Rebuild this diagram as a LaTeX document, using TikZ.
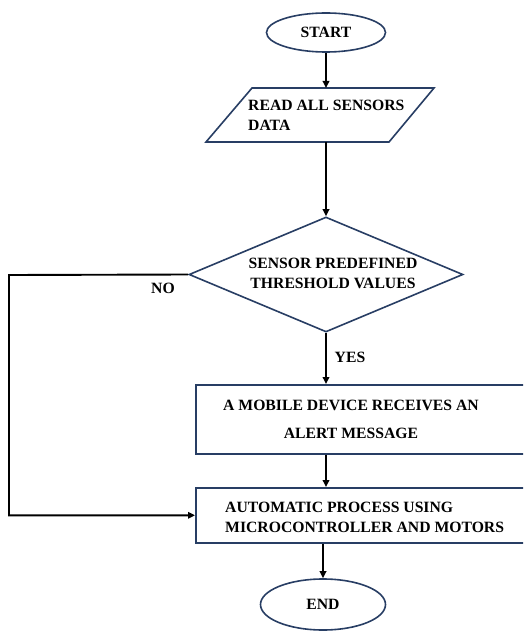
\documentclass[tikz,border=0pt]{standalone}
\usepackage{fontspec}
\setmainfont{Liberation Serif}
\usetikzlibrary{shapes.geometric,arrows.meta}
\definecolor{outline}{RGB}{40,62,100}
\begin{document}
\begin{tikzpicture}[x=1pt,y=-1pt,
  every node/.style={font=\fontsize{15.7}{20}\selectfont\bfseries},
  shapeline/.style={draw=outline,line width=1.6pt,fill=white},
  flow/.style={draw=black,line width=1.9pt,-{Triangle[length=7pt,width=6.5pt]}},
  txt/.style={inner sep=0pt}]
\useasboundingbox (0,0) rectangle (523,631);
\clip (0,0) rectangle (523,631);

% terminals and process boxes
\node[ellipse,shapeline,minimum width=119pt,minimum height=39pt,inner sep=0pt] (start) at (326,32.5) {START};

\draw[shapeline] (252,88) -- (434,88) -- (389,142) -- (206,142) -- cycle;
\coordinate (readtop) at (326,88);
\coordinate (readbot) at (326,142);
\node[txt,align=left,anchor=west] (readtxt) at (248,115) {READ ALL SENSORS\\DATA};

\node[diamond,shapeline,minimum width=274pt,minimum height=115pt,inner sep=0pt] (decision) at (326,274.5) {};
\node[txt,align=center] (dectxt) at (333,273) {SENSOR PREDEFINED\\THRESHOLD VALUES};

\node[rectangle,shapeline,minimum width=365pt,minimum height=69pt,anchor=north west] (alert) at (195,384) {};
\node[txt,align=center,font=\fontsize{15.7}{28}\selectfont\bfseries] (alerttxt) at (351,419) {A MOBILE DEVICE RECEIVES AN\\ALERT MESSAGE};

\node[rectangle,shapeline,minimum width=365pt,minimum height=55pt,anchor=north west] (auto) at (195,487) {};
\node[txt,align=left,anchor=west] (autotxt) at (225,517) {AUTOMATIC PROCESS USING\\MICROCONTROLLER AND MOTORS};

\node[ellipse,shapeline,minimum width=125pt,minimum height=51pt,inner sep=0pt] (end) at (323,604.5) {END};

% connectors
\coordinate (noturn) at (9,275);
\draw[flow] (start.south) -- (readtop);
\draw[flow] (readbot) -- (decision.north);
\draw[flow] (decision.south) -- (decision.south |- alert.north);
\draw[flow] (decision.south |- alert.south) -- (decision.south |- auto.north);
\draw[flow] (end.north |- auto.south) -- (end.north);
\draw[flow] (decision.west) -- (noturn) |- (auto.west);

% branch labels
\node (nolabel) at (163,288) {NO};
\node (yeslabel) at (350,357) {YES};
\end{tikzpicture}
\end{document}
